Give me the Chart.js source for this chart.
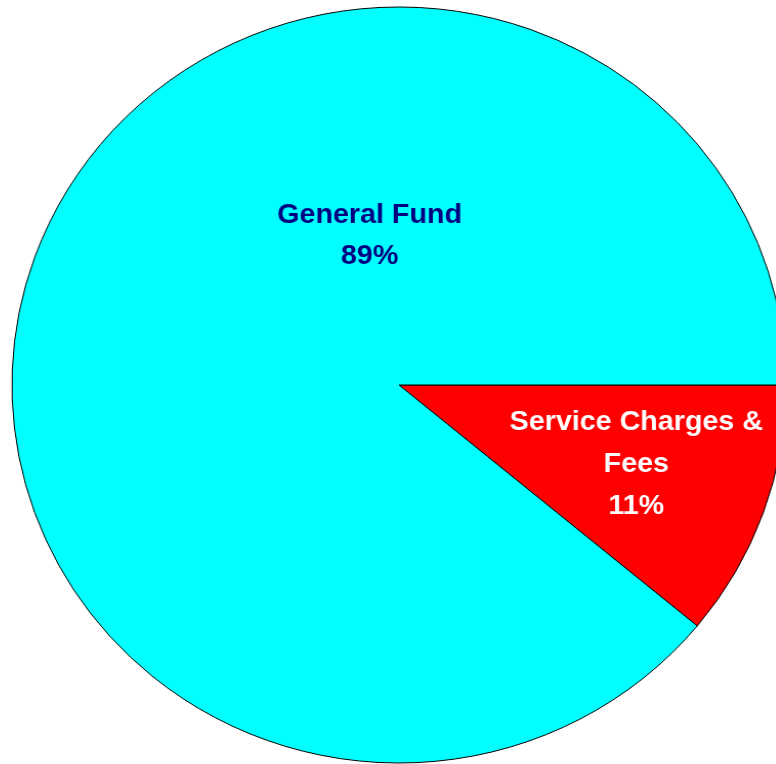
<!DOCTYPE html>
<html>
<head>
<meta charset="utf-8">
<title>Funding Sources</title>
<script src="https://cdn.jsdelivr.net/npm/chart.js@4/dist/chart.umd.min.js"></script>
<style>
  html, body { margin: 0; padding: 0; background: #ffffff; overflow: hidden; width: 776px; height: 764px; }
  #wrap {
    position: absolute;
    left: -1px;
    top: -15px;
    width: 800px;
    height: 800px;
    transform: scaleX(1.024);
    transform-origin: 400px 400px;
  }
</style>
</head>
<body>
<div id="wrap"><canvas id="pie" width="800" height="800"></canvas></div>
<script>
// Funding sources, in percent of the total
const categories = ['Service Charges & Fees', 'General Fund'];
const shares = [11, 89];
const labelLines = [
  ['Service Charges &', 'Fees'],
  ['General Fund']
];
const sliceColors = ['#ff0000', '#00ffff'];
const textColors = ['#ffffff', '#000080'];

// Where each slice's caption sits, as fractions of the radius from the centre
const captionAnchors = [
  { x: 0.613, y: 0.118 },
  { x: -0.076, y: -0.428 }
];

const captionPlugin = {
  id: 'sliceCaptions',
  afterDatasetsDraw(chart) {
    const ctx = chart.ctx;
    const meta = chart.getDatasetMeta(0);
    const values = chart.data.datasets[0].data;
    ctx.save();
    ctx.font = 'bold 28px "Liberation Sans", Arial, sans-serif';
    ctx.textAlign = 'center';
    ctx.textBaseline = 'alphabetic';
    meta.data.forEach((arc, i) => {
      const r = arc.outerRadius;
      const cx = arc.x + captionAnchors[i].x * r;
      let y = arc.y + captionAnchors[i].y * r;
      const lines = labelLines[i].concat([values[i] + '%']);
      const step = i === 0 ? 42 : 41;
      ctx.fillStyle = textColors[i];
      lines.forEach(line => {
        ctx.fillText(line, cx, y);
        y += step;
      });
    });
    ctx.restore();
  }
};

new Chart(document.getElementById('pie'), {
  type: 'pie',
  data: {
    labels: categories,
    datasets: [{
      data: shares,
      backgroundColor: sliceColors,
      borderColor: '#000000',
      borderWidth: 1,
      hoverOffset: 0
    }]
  },
  options: {
    responsive: false,
    animation: false,
    rotation: 90,
    radius: 378,
    layout: { padding: 0 },
    plugins: {
      legend: { display: false },
      tooltip: { enabled: false }
    }
  },
  plugins: [captionPlugin]
});
</script>
</body>
</html>
